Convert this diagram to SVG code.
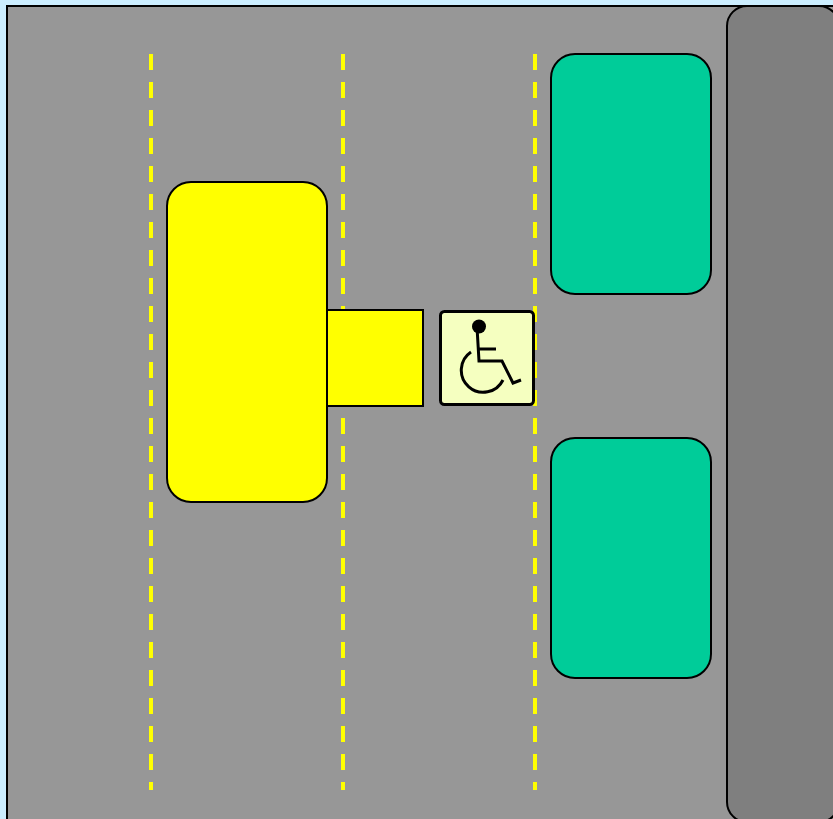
<svg xmlns="http://www.w3.org/2000/svg" width="833" height="819" viewBox="0 0 833 819">
<style>
.car{stroke:#000;stroke-width:2}
.lane{fill:none;stroke:#ff0;stroke-width:4;stroke-dasharray:16 12}
.glyph{fill:none;stroke:#000;stroke-width:3}
</style>
<rect id="background" width="833" height="819" fill="#cceeff"/>
<rect id="road" x="7" y="6" width="840" height="830" fill="#979797" stroke="#000" stroke-width="2"/>
<rect id="sidewalk" x="727" y="6" width="112" height="816" rx="20" fill="#7f7f7f" stroke="#000" stroke-width="2"/>
<g id="lanes">
<path class="lane" d="M151 54V790"/>
<path class="lane" d="M343 54V790"/>
<path class="lane" d="M535 54V790"/>
</g>
<g id="van">
<rect class="car" x="327" y="310" width="96" height="96" fill="#ff0"/>
<rect class="car" x="167" y="182" width="160" height="320" rx="24" fill="#ff0"/>
</g>
<rect id="car-top" class="car" x="551" y="54" width="160" height="240" rx="24" fill="#00cc99"/>
<rect id="car-bottom" class="car" x="551" y="438" width="160" height="240" rx="24" fill="#00cc99"/>
<g id="accessible-sign">
<rect x="440.500" y="311.500" width="93" height="93" rx="4" fill="#f5ffc0" stroke="#000" stroke-width="3"/>
<circle cx="479" cy="326.500" r="7" fill="#000"/>
<path class="glyph" d="M477 327L479 361H502L513 383L521 380M479 349H496M471 352A22 22 0 1 0 503 380"/>
</g>
</svg>
